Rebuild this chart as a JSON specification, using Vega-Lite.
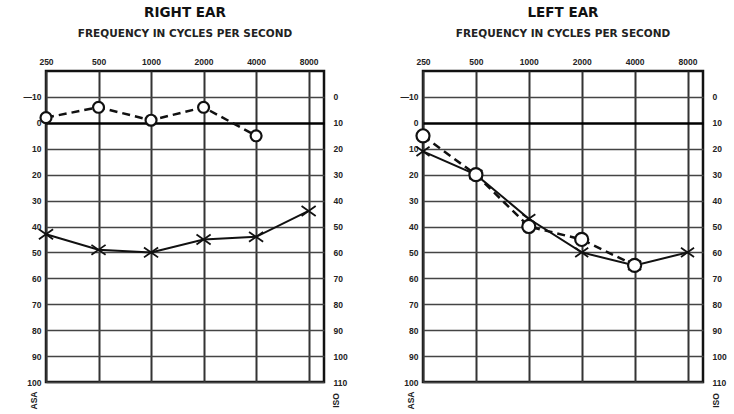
{
  "$schema": "https://vega.github.io/schema/vega-lite/v6.json",
  "background": "white",
  "padding": {"left": 21, "top": 4, "right": 0, "bottom": 0},
  "data": {"values": [
    {"ear": "Right", "sym": "O", "freq": 250, "db": -2},
    {"ear": "Right", "sym": "O", "freq": 500, "db": -6},
    {"ear": "Right", "sym": "O", "freq": 1000, "db": -1},
    {"ear": "Right", "sym": "O", "freq": 2000, "db": -6},
    {"ear": "Right", "sym": "O", "freq": 4000, "db": 5},
    {"ear": "Right", "sym": "X", "freq": 250, "db": 43},
    {"ear": "Right", "sym": "X", "freq": 500, "db": 49},
    {"ear": "Right", "sym": "X", "freq": 1000, "db": 50},
    {"ear": "Right", "sym": "X", "freq": 2000, "db": 45},
    {"ear": "Right", "sym": "X", "freq": 4000, "db": 44},
    {"ear": "Right", "sym": "X", "freq": 8000, "db": 34},
    {"ear": "Left", "sym": "O", "freq": 250, "db": 5},
    {"ear": "Left", "sym": "O", "freq": 500, "db": 20},
    {"ear": "Left", "sym": "O", "freq": 1000, "db": 40},
    {"ear": "Left", "sym": "O", "freq": 2000, "db": 45},
    {"ear": "Left", "sym": "O", "freq": 4000, "db": 55},
    {"ear": "Left", "sym": "X", "freq": 250, "db": 11},
    {"ear": "Left", "sym": "X", "freq": 500, "db": 20},
    {"ear": "Left", "sym": "X", "freq": 1000, "db": 37},
    {"ear": "Left", "sym": "X", "freq": 2000, "db": 50},
    {"ear": "Left", "sym": "X", "freq": 4000, "db": 55},
    {"ear": "Left", "sym": "X", "freq": 8000, "db": 50}
  ]},
  "hconcat": [
    {
      "width": 278, "height": 311,
      "title": {"text": "RIGHT EAR", "subtitle": "FREQUENCY IN CYCLES PER SECOND"},
      "transform": [{"filter": "datum.ear === 'Right'"}],
      "encoding": {
        "x": {"field": "freq", "type": "quantitative",
          "scale": {"type": "log", "domain": [250, 9800], "nice": false},
          "axis": {"orient": "top", "title": null, "values": [250, 500, 1000, 2000, 4000, 8000], "grid": true, "gridColor": "#333", "gridWidth": 2, "labelPadding": 5, "format": "d"}}
      },
      "layer": [
        {"transform": [{"filter": "datum.sym === 'X'"}],
         "mark": {"type": "line", "color": "#111", "strokeWidth": 2},
         "encoding": {"y": {"field": "db", "type": "quantitative",
           "scale": {"domain": [-20, 100], "reverse": true, "nice": false, "zero": false},
           "axis": {"orient": "left", "title": "ASA", "values": [-10, 0, 10, 20, 30, 40, 50, 60, 70, 80, 90, 100],
             "labelExpr": "datum.value === -10 ? '\u201410' : datum.label", "grid": true, "gridColor": {"condition": {"test": "datum.value === 0", "value": "#000"}, "value": "#444"},
             "gridWidth": {"condition": {"test": "datum.value === 0", "value": 2.5}, "value": 1.5},
             "labelPadding": 5, "titleAngle": 270, "titleX": -13, "titleY": 329, "titleAlign": "center", "titleBaseline": "middle"}}}},
        {"transform": [{"filter": "datum.sym === 'O'"}],
         "mark": {"type": "line", "color": "#111", "strokeWidth": 2.5, "strokeDash": [8, 5]},
         "encoding": {"y": {"field": "db", "type": "quantitative",
           "axis": {"orient": "right", "title": "ISO", "values": [-10, 0, 10, 20, 30, 40, 50, 60, 70, 80, 90, 100],
             "labelExpr": "format(datum.value + 10, 'd')", "grid": false, "labelPadding": 9,
             "titleAngle": 270, "titleX": 11, "titleY": 329, "titleAlign": "center", "titleBaseline": "middle"}}}},
        {"transform": [{"filter": "datum.sym === 'X'"}],
         "mark": {"type": "point", "shape": "M-1,-0.7L1,0.7M1,-0.7L-1,0.7", "filled": false, "color": "#111", "strokeWidth": 1.8, "size": 200, "opacity": 1},
         "encoding": {"y": {"field": "db", "type": "quantitative", "axis": null}}},
        {"transform": [{"filter": "datum.sym === 'O'"}],
         "mark": {"type": "point", "shape": "circle", "filled": true, "fill": "white", "stroke": "#111", "strokeWidth": 2.2, "size": 120, "opacity": 1},
         "encoding": {"y": {"field": "db", "type": "quantitative", "axis": null}}}
      ],
      "resolve": {"axis": {"y": "independent"}}
    },
    {
      "width": 280, "height": 311,
      "title": {"text": "LEFT EAR", "subtitle": "FREQUENCY IN CYCLES PER SECOND"},
      "transform": [{"filter": "datum.ear === 'Left'"}],
      "encoding": {
        "x": {"field": "freq", "type": "quantitative",
          "scale": {"type": "log", "domain": [250, 9800], "nice": false},
          "axis": {"orient": "top", "title": null, "values": [250, 500, 1000, 2000, 4000, 8000], "grid": true, "gridColor": "#333", "gridWidth": 2, "labelPadding": 5, "format": "d"}}
      },
      "layer": [
        {"transform": [{"filter": "datum.sym === 'X'"}],
         "mark": {"type": "line", "color": "#111", "strokeWidth": 2},
         "encoding": {"y": {"field": "db", "type": "quantitative",
           "scale": {"domain": [-20, 100], "reverse": true, "nice": false, "zero": false},
           "axis": {"orient": "left", "title": "ASA", "values": [-10, 0, 10, 20, 30, 40, 50, 60, 70, 80, 90, 100],
             "labelExpr": "datum.value === -10 ? '\u201410' : datum.label", "grid": true, "gridColor": {"condition": {"test": "datum.value === 0", "value": "#000"}, "value": "#444"},
             "gridWidth": {"condition": {"test": "datum.value === 0", "value": 2.5}, "value": 1.5},
             "labelPadding": 5, "titleAngle": 270, "titleX": -13, "titleY": 329, "titleAlign": "center", "titleBaseline": "middle"}}}},
        {"transform": [{"filter": "datum.sym === 'O'"}],
         "mark": {"type": "line", "color": "#111", "strokeWidth": 2.5, "strokeDash": [8, 5]},
         "encoding": {"y": {"field": "db", "type": "quantitative",
           "axis": {"orient": "right", "title": "ISO", "values": [-10, 0, 10, 20, 30, 40, 50, 60, 70, 80, 90, 100],
             "labelExpr": "format(datum.value + 10, 'd')", "grid": false, "labelPadding": 9,
             "titleAngle": 270, "titleX": 12, "titleY": 329, "titleAlign": "center", "titleBaseline": "middle"}}}},
        {"transform": [{"filter": "datum.sym === 'X'"}],
         "mark": {"type": "point", "shape": "M-1,-0.7L1,0.7M1,-0.7L-1,0.7", "filled": false, "color": "#111", "strokeWidth": 1.8, "size": 170, "opacity": 1},
         "encoding": {"y": {"field": "db", "type": "quantitative", "axis": null}}},
        {"transform": [{"filter": "datum.sym === 'O'"}],
         "mark": {"type": "point", "shape": "circle", "filled": true, "fill": "white", "stroke": "#111", "strokeWidth": 2.2, "size": 170, "opacity": 1},
         "encoding": {"y": {"field": "db", "type": "quantitative", "axis": null}}}
      ],
      "resolve": {"axis": {"y": "independent"}}
    }
  ],
  "spacing": 99,
  "bounds": "flush",
  "config": {
    "view": {"stroke": "#111", "strokeWidth": 2.5},
    "axis": {"domain": false, "ticks": false, "labelFont": "Liberation Sans", "labelFontWeight": "bold", "labelFontSize": 8.5, "labelColor": "#222",
      "titleFont": "Liberation Sans", "titleFontWeight": "bold", "titleFontSize": 8.5, "titleColor": "#222", "labelFlush": false, "labelOverlap": false},
    "title": {"font": "DejaVu Sans", "fontSize": 13.5, "fontWeight": "bold", "color": "#111", "anchor": "middle", "offset": 18,
      "subtitleFont": "DejaVu Sans", "subtitleFontSize": 10.5, "subtitleFontWeight": "bold", "subtitleColor": "#222", "subtitlePadding": 9}
  }
}
